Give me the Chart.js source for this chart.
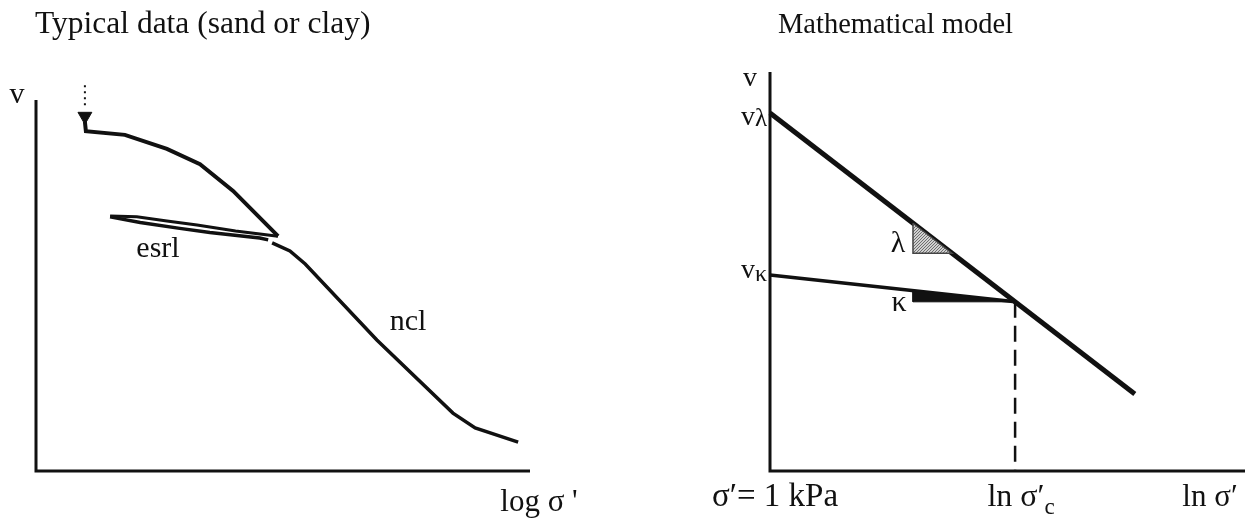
<!DOCTYPE html>
<html>
<head>
<meta charset="utf-8">
<script src="https://cdn.jsdelivr.net/npm/chart.js@4/dist/chart.umd.min.js"></script>
<style>
  html, body { margin: 0; background: #fff; }
  #wrap { position: relative; width: 1257px; height: 524px; }
  canvas { position: absolute; top: 0; }
  #typical { left: 0; }
  #model { left: 628px; }
</style>
</head>
<body>
<div id="wrap">
  <canvas id="typical" width="628" height="524"></canvas>
  <canvas id="model" width="629" height="524"></canvas>
</div>
<script>
'use strict';

// ---- Typical data: x = log sigma' (arbitrary units 0..100), v (0..100) ----
const arrowLogS  = [9.9, 9.9];
const arrowV     = [104.0, 98.6];
const arrowTip   = [{ x: 9.9, y: 95.6 }];
const loadLogS   = [9.9, 10.1, 18.0, 26.5, 33.2, 39.9, 49.0];
const loadV      = [94.1, 91.6, 90.6, 86.8, 82.7, 75.5, 63.3];
const unloadLogS = [49.0, 40.4, 32.6, 26.5, 20.4, 15.0];
const unloadV    = [63.3, 64.7, 66.3, 67.4, 68.5, 68.7];
const reloadLogS = [15.0, 21.1, 29.1, 35.2, 45.3, 47.0];
const reloadV    = [68.5, 67.0, 65.4, 64.3, 62.8, 62.3];
const nclLogS    = [47.8, 51.4, 54.5, 69.0, 84.4, 88.9, 97.6];
const nclV       = [61.5, 59.3, 55.8, 35.3, 15.6, 11.6, 7.8];

// ---- Mathematical model: x = ln sigma' (0 at 1 kPa), v ----
const vLambda  = 89.7;
const vKappa   = 49.1;
const lnSigC   = 51.6;
const vC       = 42.4;
const lineLnS  = [0, 76.8];
const lineV    = [vLambda, 19.3];
const urlLnS   = [0, lnSigC];
const urlV     = [vKappa, vC];
const lamTriX  = [30.1, 30.1, 38.3, 30.1];
const lamTriV  = [62.1, 54.6, 54.6, 62.1];
const kapTriX  = [30.1, 30.1, lnSigC, 30.1];
const kapTriV  = [45.2, vC, vC, 45.2];

// axes drawn as polylines (top of v axis, origin, end of x axis)
const axisX = [0, 0, 100];
const axisV = [100, 0, 0];

const ink = '#111';
const serif = '"Liberation Serif", "Times New Roman", serif';

function pts(xs, ys) { return xs.map((x, i) => ({ x, y: ys[i] })); }

function seg(xs, ys, extra) {
  return Object.assign({
    data: pts(xs, ys), showLine: true, borderColor: ink, backgroundColor: ink,
    borderWidth: 3, pointRadius: 0, fill: false, clip: false, tension: 0,
    borderJoinStyle: 'miter'
  }, extra || {});
}

function stipple() {
  const c = document.createElement('canvas');
  c.width = c.height = 3;
  const g = c.getContext('2d');
  g.fillStyle = '#d0d0d0'; g.fillRect(0, 0, 3, 3);
  g.fillStyle = '#6e6e6e';
  g.fillRect(0, 0, 1, 1); g.fillRect(2, 1, 1, 1); g.fillRect(1, 2, 1, 1);
  return g.createPattern(c, 'repeat');
}

// text runs: [{ t, size, dy }] drawn side by side
function drawRuns(ctx, runs, x, y, align) {
  let w = 0;
  const widths = runs.map(r => { ctx.font = r.size + 'px ' + serif; const m = ctx.measureText(r.t).width; w += m; return m; });
  let cx = align === 'center' ? x - w / 2 : align === 'right' ? x - w : x;
  runs.forEach((r, i) => {
    ctx.font = r.size + 'px ' + serif;
    ctx.fillText(r.t, cx, y + (r.dy || 0));
    cx += widths[i];
  });
}

// labels per canvas, kept out of the options proxy
const labelSets = {};

const labelPlugin = {
  id: 'labels',
  afterDatasetsDraw(chart) {
    const { ctx, scales: { x, y } } = chart;
    const items = labelSets[chart.canvas.id] || [];
    ctx.save();
    ctx.fillStyle = ink;
    ctx.textBaseline = 'alphabetic';
    ctx.textAlign = 'left';
    items.forEach(it => {
      const px = it.at ? x.getPixelForValue(it.at[0]) : 0;
      const py = it.at ? y.getPixelForValue(it.at[1]) : 0;
      drawRuns(ctx, it.runs, px + it.dx, py + it.dy, it.align || 'left');
    });
    ctx.restore();
  }
};

function makeChart(id, padding, datasets, items) {
  labelSets[id] = items;
  return new Chart(document.getElementById(id), {
    type: 'scatter',
    data: { datasets },
    options: {
      responsive: false,
      animation: false,
      events: [],
      layout: { padding },
      scales: {
        x: { type: 'linear', min: 0, max: 100, display: false },
        y: { type: 'linear', min: 0, max: 100, display: false }
      },
      plugins: { legend: { display: false }, tooltip: { enabled: false } }
    },
    plugins: [labelPlugin]
  });
}

makeChart('typical', { left: 36, right: 98, top: 100, bottom: 53 }, [
  seg(axisX, axisV, { borderWidth: 3 }),
  seg(arrowLogS, arrowV, { borderWidth: 2, borderDash: [2, 4] }),
  { data: arrowTip, pointStyle: 'triangle', rotation: 180, pointRadius: 8,
    backgroundColor: ink, borderColor: ink, borderWidth: 1, clip: false },
  seg(loadLogS, loadV, { borderWidth: 4 }),
  seg(unloadLogS, unloadV, { borderWidth: 3 }),
  seg(reloadLogS, reloadV, { borderWidth: 3.5 }),
  seg(nclLogS, nclV, { borderWidth: 3.5 })
], [
  { runs: [{ t: 'Typical data (sand or clay)', size: 31.5 }], dx: 35, dy: 33 },
  { at: [0, 100], dx: -19, dy: 3, align: 'center', runs: [{ t: 'v', size: 30 }] },
  { at: [24.7, 58.0], dx: 0, dy: 1, align: 'center', runs: [{ t: 'esrl', size: 30 }] },
  { at: [75.3, 38.0], dx: 0, dy: 0, align: 'center', runs: [{ t: 'ncl', size: 30 }] },
  { at: [100, 0], dx: 9, dy: 40, align: 'center', runs: [{ t: 'log σ \'', size: 31 }] }
]);

makeChart('model', { left: 142, right: 12, top: 72, bottom: 53 }, [
  seg(axisX, axisV, { borderWidth: 3 }),
  seg(lamTriX, lamTriV, { borderWidth: 1.5, borderColor: '#444', fill: 'shape', backgroundColor: stipple() }),
  seg(kapTriX, kapTriV, { borderWidth: 1, fill: 'shape', backgroundColor: ink }),
  seg(lineLnS, lineV, { borderWidth: 5 }),
  seg(urlLnS, urlV, { borderWidth: 3.5 }),
  seg([lnSigC, lnSigC], [vC, 0], { borderWidth: 2.5, borderDash: [16, 8] })
], [
  { runs: [{ t: 'Mathematical model', size: 28.5 }], dx: 150, dy: 33 },
  { at: [0, 100], dx: -20, dy: 14, align: 'center', runs: [{ t: 'v', size: 28 }] },
  { at: [0, vLambda], dx: -3, dy: 12, align: 'right', runs: [{ t: 'v', size: 28 }, { t: 'λ', size: 25, dy: 1 }] },
  { at: [0, vKappa], dx: -3, dy: 3, align: 'right', runs: [{ t: 'v', size: 28 }, { t: 'κ', size: 24, dy: 3 }] },
  { at: [30.1, 54.6], dx: -15, dy: -1, align: 'center', runs: [{ t: 'λ', size: 30 }] },
  { at: [30.1, vC], dx: -14, dy: 9, align: 'center', runs: [{ t: 'κ', size: 30 }] },
  { at: [0, 0], dx: 5, dy: 35, align: 'center', runs: [{ t: 'σ′= 1 kPa', size: 33 }] },
  { at: [lnSigC, 0], dx: 6, dy: 35, align: 'center', runs: [{ t: 'ln σ′', size: 32 }, { t: 'c', size: 23, dy: 8 }] },
  { at: [100, 0], dx: -35, dy: 35, align: 'center', runs: [{ t: 'ln σ′', size: 31 }] }
]);
</script>
</body>
</html>
